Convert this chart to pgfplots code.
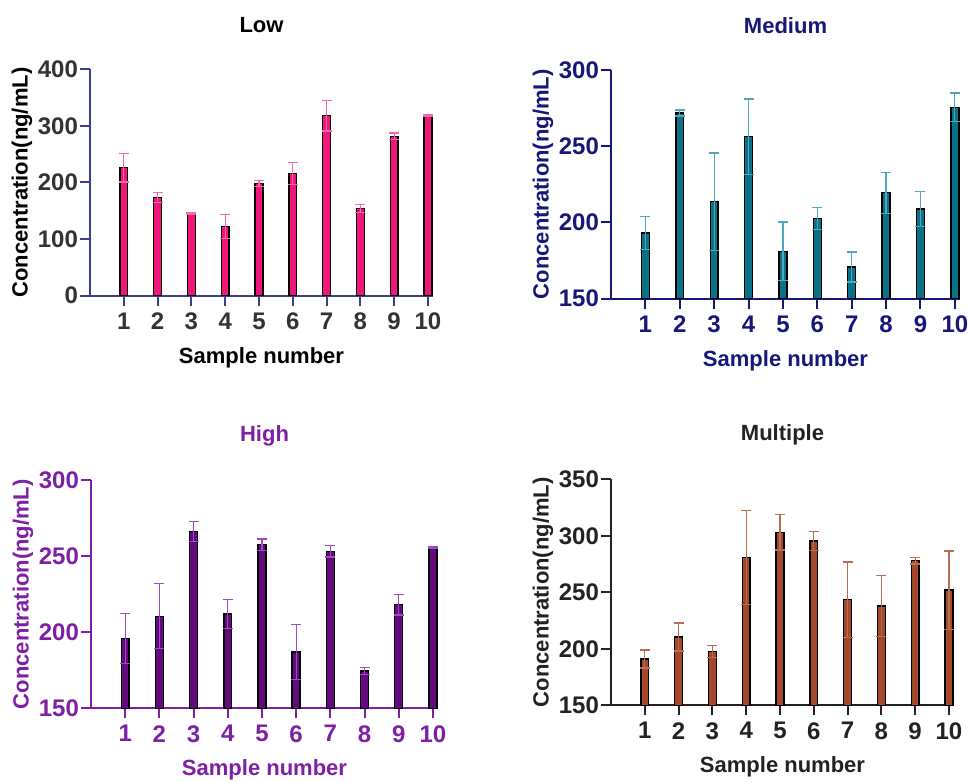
\documentclass[border=0pt]{standalone}
\usepackage{pgfplots}
\pgfplotsset{compat=1.18}
\usepackage{fontspec}
\setmainfont{Liberation Sans}
\definecolor{lowbar}{HTML}{F0167A}
\definecolor{lowerr}{HTML}{F26AA8}
\definecolor{lowaxis}{HTML}{3C3F8F}
\definecolor{lowtext}{HTML}{333333}
\definecolor{medbar}{HTML}{0B7187}
\definecolor{mederr}{HTML}{4FA8BD}
\definecolor{medtext}{HTML}{17177A}
\definecolor{highbar}{HTML}{65097F}
\definecolor{higherr}{HTML}{9B4BC4}
\definecolor{hightext}{HTML}{7E1FA6}
\definecolor{multbar}{HTML}{A3482A}
\definecolor{multerr}{HTML}{B86E50}
\definecolor{multtext}{HTML}{222222}
\newcommand{\pfont}{\fontsize{11}{13}\selectfont\bfseries}
\newcommand{\tfont}{\fontsize{12}{14}\selectfont\bfseries}
\pgfplotsset{
 panel/.style={
  scale only axis, axis x line=bottom, axis y line=left,
  axis line style={-, line width=1pt},
  xmin=0, xmax=10.15, xtick={1,...,10}, tick align=outside, major tick length=5pt,
  tick style={line width=1pt},
  ybar, bar width=0.23,
  /pgf/number format/assume math mode=true,
  tick label style={font=\tfont},
  yticklabel style={xshift=2.5pt},
  title style={font=\pfont, at={(0.5,1)}, anchor=center, yshift=22pt},
  every axis x label/.style={at={(axis description cs:0.5,0)}, yshift=-31pt, anchor=center, font=\pfont},
  every axis y label/.style={at={(axis description cs:0,0.5)}, xshift=-34pt, anchor=center, rotate=90, font=\pfont},
  xlabel={Sample number}, ylabel={Concentration(ng/mL)},
 },
 bars/.style 2 args={fill=#1, draw=black, line width=0.7pt,
  error bars/.cd, y dir=both, y explicit,
  error bar style={line width=0.6pt, color=#2},
  error mark options={rotate=90, mark size=2.5pt, line width=0.6pt, color=#2}},
}
\begin{document}
\begin{tikzpicture}
\path[use as bounding box] (0,0) rectangle (484pt,390.5pt);
% Low
\begin{axis}[panel, at={(45pt,242.65pt)}, anchor=south west, width=171.5pt, height=113.2pt,
  ymin=0, ymax=400, ytick={0,100,200,300,400},
  axis line style={color=lowaxis}, tick style={color=lowaxis},
  tick label style={color=lowtext}, label style={color=black},
  title={Low}, title style={color=black, yshift=-6pt}]
\addplot[bars={lowbar}{lowerr}] coordinates {
 (1,226) +- (0,25)
 (2,174) +- (0,9)
 (3,145) +- (0,1)
 (4,122.5) +- (0,21.5)
 (5,198.5) +- (0,5.5)
 (6,216) +- (0,20)
 (7,318) +- (0,27)
 (8,154) +- (0,7)
 (9,281.5) +- (0,6)
 (10,319) +- (0,1.5)
};
\end{axis}
% Medium
\begin{axis}[panel, at={(305.5pt,241.15pt)}, anchor=south west, width=174.5pt, height=114.35pt,
  ymin=150, ymax=300, ytick={150,200,250,300},
  axis line style={color=medtext}, tick style={color=medtext},
  tick label style={color=medtext}, label style={color=medtext},
  title={Medium}, title style={color=medtext, yshift=-6pt}]
\addplot[bars={medbar}{mederr}] coordinates {
 (1,193) +- (0,10.7)
 (2,271.8) +- (0,2)
 (3,213.6) +- (0,32)
 (4,256.3) +- (0,24.7)
 (5,181) +- (0,19.3)
 (6,202.5) +- (0,7.2)
 (7,170.8) +- (0,9.8)
 (8,219.5) +- (0,13.4)
 (9,208.8) +- (0,11.6)
 (10,275.5) +- (0,9.4)
};
\end{axis}
% High
\begin{axis}[panel, at={(45.5pt,36.35pt)}, anchor=south west, width=173.5pt, height=114.15pt,
  ymin=150, ymax=300, ytick={150,200,250,300},
  axis line style={color=hightext}, tick style={color=hightext},
  tick label style={color=hightext}, label style={color=hightext},
  title={High}, title style={color=hightext, yshift=-6pt}]
\addplot[bars={highbar}{higherr}] coordinates {
 (1,195.8) +- (0,16.6)
 (2,210.5) +- (0,21.4)
 (3,266) +- (0,6.6)
 (4,212) +- (0,9.4)
 (5,257.5) +- (0,3.7)
 (6,187) +- (0,18)
 (7,253.1) +- (0,3.7)
 (8,174.5) +- (0,2.4)
 (9,218.1) +- (0,6.8)
 (10,255.5) +- (0,0.5)
};
\end{axis}
% Multiple
\begin{axis}[panel, at={(305.5pt,37.85pt)}, anchor=south west, width=171.5pt, height=113pt,
  ymin=150, ymax=350, ytick={150,200,250,300,350},
  axis line style={color=multtext}, tick style={color=multtext},
  tick label style={color=multtext}, label style={color=multtext},
  title={Multiple}, title style={color=multtext, yshift=-6pt}]
\addplot[bars={multbar}{multerr}] coordinates {
 (1,191) +- (0,8)
 (2,210.5) +- (0,12.4)
 (3,197.5) +- (0,5.3)
 (4,281) +- (0,41.6)
 (5,303.1) +- (0,15.6)
 (6,295.4) +- (0,8.6)
 (7,243.5) +- (0,33.3)
 (8,237.9) +- (0,27.1)
 (9,278) +- (0,3)
 (10,252) +- (0,34.6)
};
\end{axis}
\end{tikzpicture}
\end{document}
